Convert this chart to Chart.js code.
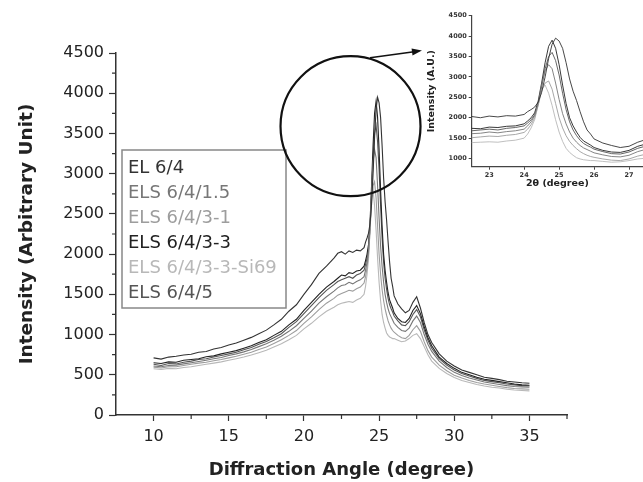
<!DOCTYPE html>
<html>
<head>
<meta charset="utf-8">
<script src="https://cdn.jsdelivr.net/npm/chart.js@4.4.0/dist/chart.umd.min.js"></script>
<style>
  html, body { margin: 0; padding: 0; background: #fff; overflow: hidden; }
  #wrap { position: relative; width: 643px; height: 482px; }
  #mainChart { position: absolute; left: 0; top: 0; }
  #insetChart { position: absolute; left: 420px; top: 0; }
</style>
</head>
<body>
<div id="wrap">
  <canvas id="mainChart" width="643" height="482"></canvas>
  <canvas id="insetChart" width="223" height="200"></canvas>
</div>
<script>
// Diffraction angle (2 theta, degree)
const angle = [
  10, 10.5, 11, 11.5, 12, 12.5, 13, 13.5, 14, 14.5, 15, 15.5, 16, 16.5, 17, 17.5, 18, 18.5, 19, 19.5, 20, 20.5, 21, 21.5,
  22, 22.25, 22.5, 22.75, 23, 23.25, 23.5, 23.75,
  24, 24.1, 24.2, 24.3, 24.4, 24.5, 24.6, 24.7, 24.8, 24.9, 25, 25.1, 25.2, 25.3, 25.4, 25.5, 25.6, 25.7, 25.8, 25.9,
  26, 26.25, 26.5, 26.75, 27, 27.25, 27.5, 27.75, 28, 28.25,
  28.5, 29, 29.5, 30, 30.5, 31, 31.5, 32, 32.5, 33, 33.5, 34, 34.5, 35
];

// intensidade (arbitrary unit)
const el64 = [
  710, 695, 720, 730, 745, 755, 780, 790, 820, 840, 870, 895, 930, 965, 1010, 1055, 1120, 1190, 1290, 1370, 1500, 1620, 1760, 1850,
  1950, 2010, 2030, 2000, 2040, 2020, 2050, 2040,
  2080, 2150, 2200, 2260, 2380, 2620, 3000, 3450, 3800, 3950, 3880, 3700, 3350, 2950, 2650, 2420, 2150, 1900, 1700, 1600,
  1480, 1380, 1320, 1270, 1300, 1400, 1470, 1330, 1150, 1000,
  900, 760, 670, 610, 560, 530, 500, 470, 455, 440, 420, 410, 400, 395
];
const els64_15 = [
  610, 600, 615, 620, 635, 650, 665, 680, 700, 715, 740, 760, 785, 815, 850, 885, 930, 980, 1040, 1110, 1200, 1290, 1390, 1470,
  1540, 1580, 1610, 1620, 1650, 1630, 1660, 1680,
  1720, 1800, 1900, 2050, 2350, 2800, 3150, 3300, 3200, 2850, 2450, 2100, 1850, 1650, 1500, 1400, 1320, 1260, 1220, 1180,
  1140, 1090, 1050, 1040, 1080, 1170, 1230, 1150, 1000, 880,
  790, 670, 590, 530, 490, 460, 435, 410, 395, 380, 365, 355, 350, 345
];
const els64_31 = [
  595, 585, 600, 600, 615, 630, 645, 655, 675, 690, 710, 730, 755, 780, 815, 845, 890, 935, 990, 1050, 1140, 1220, 1310, 1390,
  1450, 1490, 1510, 1530, 1550, 1540, 1570, 1590,
  1640, 1720, 1830, 2000, 2300, 2650, 2850, 2900, 2700, 2350, 2000, 1750, 1560, 1420, 1320, 1240, 1170, 1120, 1080, 1050,
  1030, 990, 960, 950, 990, 1060, 1110, 1040, 910, 800,
  720, 620, 550, 495, 460, 430, 405, 385, 370, 355, 340, 330, 325, 320
];
const els64_33 = [
  650, 640, 660, 655, 680, 690, 700, 725, 735, 760, 780, 800, 830, 860, 900, 935, 990, 1040, 1120, 1190, 1300, 1400, 1500, 1590,
  1660, 1700, 1740, 1730, 1770, 1760, 1790, 1800,
  1850, 1920, 2000, 2120, 2400, 2850, 3350, 3750, 3900, 3700, 3300, 2800, 2350, 2000, 1800, 1650, 1520, 1430, 1380, 1330,
  1270, 1200, 1160, 1150, 1200, 1300, 1360, 1260, 1100, 960,
  860, 720, 640, 580, 530, 500, 470, 445, 430, 415, 400, 385, 375, 370
];
const els64_33si = [
  575, 565, 580, 575, 590, 600, 615, 630, 645, 660, 680, 700, 720, 745, 775, 805, 845, 885, 935, 990, 1070, 1140, 1220, 1290,
  1340, 1370, 1390, 1400, 1410, 1400, 1430, 1450,
  1500, 1600, 1750, 1950, 2300, 2700, 2800, 2600, 2300, 1950, 1650, 1420, 1250, 1150, 1080, 1020, 990, 970, 960, 950,
  950, 930, 910, 920, 950, 990, 1010, 950, 850, 750,
  670, 580, 515, 465, 430, 405, 380, 360, 345, 335, 320, 310, 305, 300
];
const els64_5 = [
  630, 615, 640, 635, 655, 670, 690, 700, 720, 740, 760, 780, 810, 840, 880, 915, 960, 1010, 1090, 1160, 1260, 1360, 1460, 1550,
  1620, 1660, 1680, 1700, 1720, 1700, 1740, 1760,
  1800, 1870, 1950, 2070, 2330, 2750, 3200, 3500, 3600, 3400, 3050, 2600, 2200, 1900, 1700, 1560, 1450, 1370, 1320, 1280,
  1230, 1170, 1120, 1110, 1160, 1250, 1310, 1220, 1060, 930,
  830, 700, 620, 560, 515, 485, 455, 430, 415, 400, 385, 375, 365, 360
];

const seriesNames = ['EL 6/4', 'ELS 6/4/1.5', 'ELS 6/4/3-1', 'ELS 6/4/3-3', 'ELS 6/4/3-3-Si69', 'ELS 6/4/5'];
const seriesValues = [el64, els64_15, els64_31, els64_33, els64_33si, els64_5];
const seriesColors = ['#333333', '#777777', '#9d9d9d', '#222222', '#b8b8b8', '#555555'];

// eixos
const xTicks = [10, 15, 20, 25, 30, 35];
const xMinorTicks = [12.5, 17.5, 22.5, 27.5, 32.5, 37.5];
const yMinorTicks = [250, 750, 1250, 1750, 2250, 2750, 3250, 3750, 4250];
const insetXTicks = [23, 24, 25, 26, 27];
const insetYTicks = [1000, 1500, 2000, 2500, 3000, 3500, 4000, 4500];

const fam = "'DejaVu Sans', sans-serif";
const plainLabel = function(v) { return String(v); };

function makeDatasets(width) {
  return seriesNames.map(function(name, k) {
    return {
      label: name,
      data: angle.map(function(a, i) { return { x: a, y: seriesValues[k][i] }; }),
      borderColor: seriesColors[k],
      borderWidth: width,
      pointRadius: 0,
      tension: 0,
      fill: false
    };
  });
}

// risquinhos menores nos eixos
const minorTicks = {
  id: 'minorTicks',
  afterDraw(chart) {
    const ctx = chart.ctx;
    const xs = chart.scales.x, ys = chart.scales.y;
    const area = chart.chartArea;
    ctx.save();
    ctx.strokeStyle = '#333';
    ctx.lineWidth = 1.2;
    ctx.beginPath();
    xMinorTicks.forEach(function(v) {
      const px = xs.getPixelForValue(v);
      ctx.moveTo(px, area.bottom);
      ctx.lineTo(px, area.bottom + 4);
    });
    yMinorTicks.forEach(function(v) {
      const py = ys.getPixelForValue(v);
      ctx.moveTo(area.left - 4, py);
      ctx.lineTo(area.left, py);
    });
    ctx.stroke();
    ctx.restore();
  }
};

// legenda em caixa, circulo e seta para o detalhe
const decorations = {
  id: 'decorations',
  afterDraw(chart) {
    const ctx = chart.ctx;
    const xs = chart.scales.x, ys = chart.scales.y;
    const area = chart.chartArea;
    ctx.save();

    // caixa da legenda
    const bx = area.left + 6, by = area.top + 97, bw = 164, bh = 158;
    ctx.fillStyle = '#fff';
    ctx.fillRect(bx, by, bw, bh);
    ctx.strokeStyle = '#888';
    ctx.lineWidth = 1.5;
    ctx.strokeRect(bx, by, bw, bh);
    ctx.font = '18px ' + fam;
    ctx.textBaseline = 'middle';
    ctx.textAlign = 'left';
    seriesNames.forEach(function(name, k) {
      ctx.fillStyle = seriesColors[k];
      ctx.fillText(name, bx + 6, by + 18 + k * 25.1);
    });

    // circulo em volta do pico
    const cx = xs.getPixelForValue(23.1), cy = ys.getPixelForValue(3590);
    ctx.strokeStyle = '#111';
    ctx.lineWidth = 2.2;
    ctx.beginPath();
    ctx.arc(cx, cy, 70, 0, Math.PI * 2);
    ctx.stroke();

    // seta
    const x1 = xs.getPixelForValue(24.4), y1 = ys.getPixelForValue(4440);
    const x2 = xs.getPixelForValue(27.85), y2 = ys.getPixelForValue(4530);
    const ang = Math.atan2(y2 - y1, x2 - x1);
    ctx.lineWidth = 1.5;
    ctx.beginPath();
    ctx.moveTo(x1, y1);
    ctx.lineTo(x2 - 8 * Math.cos(ang), y2 - 8 * Math.sin(ang));
    ctx.stroke();
    ctx.fillStyle = '#111';
    ctx.beginPath();
    ctx.moveTo(x2, y2);
    ctx.lineTo(x2 - 10 * Math.cos(ang) + 3.5 * Math.sin(ang), y2 - 10 * Math.sin(ang) - 3.5 * Math.cos(ang));
    ctx.lineTo(x2 - 10 * Math.cos(ang) - 3.5 * Math.sin(ang), y2 - 10 * Math.sin(ang) + 3.5 * Math.cos(ang));
    ctx.closePath();
    ctx.fill();
    ctx.restore();
  }
};

new Chart(document.getElementById('mainChart'), {
  type: 'line',
  data: { datasets: makeDatasets(1.1) },
  options: {
    responsive: false,
    animation: false,
    layout: { padding: { left: 0, top: 53, right: 76, bottom: 0 } },
    plugins: { legend: { display: false }, tooltip: { enabled: false } },
    scales: {
      x: {
        type: 'linear',
        min: 7.5,
        max: 37.5,
        afterBuildTicks: function(s) { s.ticks = xTicks.map(function(v) { return { value: v }; }); },
        afterFit: function(s) { s.height = 67; },
        grid: { drawOnChartArea: false, tickLength: 6, tickColor: '#333', tickWidth: 1.2 },
        border: { color: '#333', width: 1.5 },
        ticks: { font: { family: fam, size: 16 }, color: '#222', padding: 6, maxRotation: 0, callback: plainLabel },
        title: {
          display: true, text: 'Diffraction Angle (degree)', color: '#222',
          font: { family: fam, size: 18, weight: 'bold' }, padding: { top: 0, bottom: 1 }
        }
      },
      y: {
        min: 0,
        max: 4500,
        afterFit: function(s) { s.width = 116; },
        grid: { drawOnChartArea: false, tickLength: 7, tickColor: '#333', tickWidth: 1.2 },
        border: { color: '#333', width: 1.5 },
        ticks: { stepSize: 500, font: { family: fam, size: 16 }, color: '#222', padding: 5, callback: plainLabel },
        title: {
          display: true, text: 'Intensity (Arbitrary Unit)', color: '#222',
          font: { family: fam, size: 18.5, weight: 'bold' }, padding: { top: 16, bottom: 0 }
        }
      }
    }
  },
  plugins: [minorTicks, decorations]
});

// detalhe do pico (inset)
new Chart(document.getElementById('insetChart'), {
  type: 'line',
  data: { datasets: makeDatasets(0.9) },
  options: {
    responsive: false,
    animation: false,
    layout: { padding: { left: 0, top: 15.7, right: 0, bottom: 0 } },
    plugins: { legend: { display: false }, tooltip: { enabled: false } },
    scales: {
      x: {
        type: 'linear',
        min: 22.5,
        max: 27.4,
        afterBuildTicks: function(s) { s.ticks = insetXTicks.map(function(v) { return { value: v }; }); },
        afterFit: function(s) { s.height = 33.3; },
        grid: { drawOnChartArea: false, tickLength: 3, tickColor: '#444', tickWidth: 1 },
        border: { color: '#444', width: 1.2 },
        ticks: { font: { family: fam, size: 6.5, weight: 'bold' }, color: '#333', padding: 2, maxRotation: 0, callback: plainLabel },
        title: {
          display: true, text: '2θ (degree)', color: '#222',
          font: { family: fam, size: 9.5, weight: 'bold' }, padding: { top: 0, bottom: 11 }
        }
      },
      y: {
        min: 800,
        max: 4500,
        afterBuildTicks: function(s) { s.ticks = insetYTicks.map(function(v) { return { value: v }; }); },
        afterFit: function(s) { s.width = 51.7; },
        grid: { drawOnChartArea: false, tickLength: 3, tickColor: '#444', tickWidth: 1 },
        border: { color: '#444', width: 1.2 },
        ticks: { font: { family: fam, size: 6.5, weight: 'bold' }, color: '#333', padding: 2, callback: plainLabel },
        title: {
          display: true, text: 'Intensity (A.U.)', color: '#222',
          font: { family: fam, size: 9.5, weight: 'bold' }, padding: { top: 6, bottom: 0 }
        }
      }
    }
  }
});
</script>
</body>
</html>
